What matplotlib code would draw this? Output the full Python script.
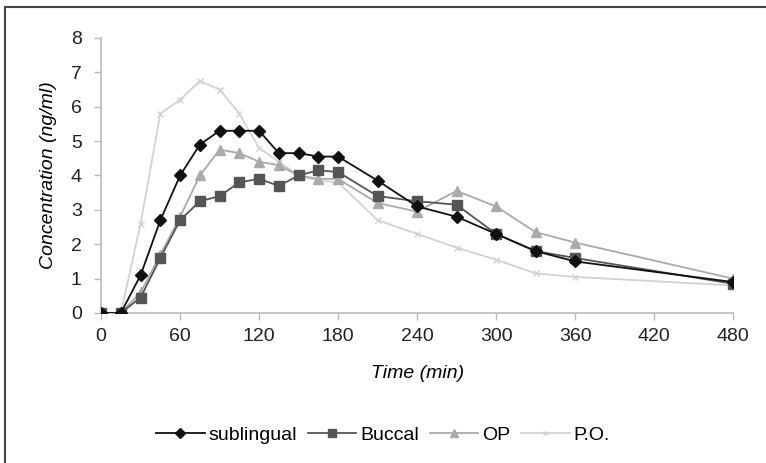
import matplotlib
matplotlib.use("Agg")
import matplotlib.pyplot as plt
from matplotlib.lines import Line2D

plt.rcParams['font.family'] = ['Liberation Sans', 'DejaVu Sans']

time = [0, 15, 30, 45, 60, 75, 90, 105, 120, 135, 150, 165, 180, 210, 240, 270, 300, 330, 360, 480]
sublingual = [0, 0, 1.1, 2.7, 4.0, 4.9, 5.3, 5.3, 5.3, 4.65, 4.65, 4.55, 4.55, 3.85, 3.1, 2.8, 2.3, 1.8, 1.5, 0.9]
buccal = [0, 0, 0.45, 1.6, 2.7, 3.25, 3.4, 3.8, 3.9, 3.7, 4.0, 4.15, 4.1, 3.4, 3.25, 3.15, 2.3, 1.8, 1.6, 0.85]
op = [0, 0, 0.6, 1.7, 2.8, 4.0, 4.75, 4.65, 4.4, 4.3, 4.0, 3.9, 3.9, 3.2, 2.95, 3.55, 3.1, 2.35, 2.05, 1.0]
po = [0, 0, 2.6, 5.8, 6.2, 6.75, 6.5, 5.8, 4.8, 4.4, 4.0, 3.85, 3.8, 2.7, 2.3, 1.9, 1.55, 1.15, 1.05, 0.8]

xticks = [0, 60, 120, 180, 240, 300, 360, 420, 480]
yticks = [0, 1, 2, 3, 4, 5, 6, 7, 8]

fig = plt.figure(figsize=(7.66, 4.63), dpi=100)
ax = fig.add_axes([0.132, 0.324, 0.825, 0.594])

ax.plot(time, po, color='#d2d2d2', marker='x', markersize=4, lw=1.3, label='P.O.', zorder=1)
ax.plot(time, op, color='#aaaaaa', marker='^', markersize=6.5, lw=1.3, label='OP', zorder=2)
ax.plot(time, buccal, color='#555555', marker='s', markersize=6.5, lw=1.3, label='Buccal', zorder=3)
ax.plot(time, sublingual, color='#111111', marker='D', markersize=6, lw=1.3, label='sublingual', zorder=4)

ax.set_xlim(0, 480)
ax.set_ylim(0, 8)
ax.set_xticks(xticks)
ax.set_yticks(yticks)
ax.tick_params(labelsize=14, length=5, width=1, color='#bbbbbb', labelcolor='#222222')
ax.tick_params(axis='x', pad=6)
ax.tick_params(axis='y', pad=9)
for s in ['top', 'right']:
    ax.spines[s].set_visible(False)
for s in ['left', 'bottom']:
    ax.spines[s].set_color('#bbbbbb')
    ax.spines[s].set_linewidth(1.2)
ax.set_xlabel('Time (min)', fontstyle='italic', fontsize=14, labelpad=14)
ax.set_ylabel('Concentration (ng/ml)', fontstyle='italic', fontsize=14, labelpad=10)

handles, labels = ax.get_legend_handles_labels()
order = [3, 2, 1, 0]
fig.legend([handles[i] for i in order], [labels[i] for i in order],
           loc='center', bbox_to_anchor=(0.5, 0.06), ncol=4, frameon=False,
           fontsize=14, handlelength=2.5, handletextpad=0.2, columnspacing=0.55,
           markerscale=0.8)

fig.add_artist(Line2D([0.007, 0.007], [0.0, 0.985], transform=fig.transFigure, color='#444444', lw=1.5))
fig.add_artist(Line2D([0.007, 1.0], [0.985, 0.985], transform=fig.transFigure, color='#444444', lw=1.5))

fig.savefig('out.png', dpi=100)
